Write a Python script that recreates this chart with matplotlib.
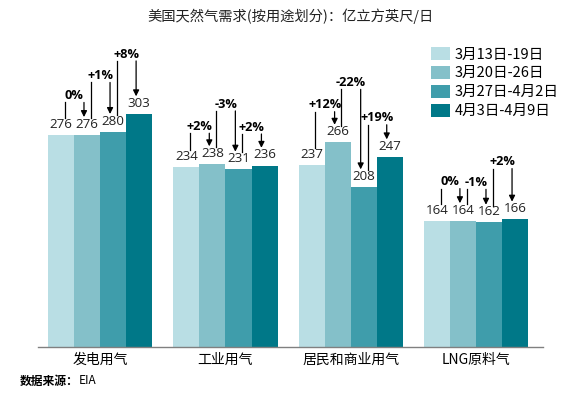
import matplotlib
matplotlib.use("Agg")
import numpy as np
import matplotlib.pyplot as plt

plt.rcParams["font.family"] = ["Noto Sans CJK SC", "DejaVu Sans"]

categories = ["发电用气", "工业用气", "居民和商业用气", "LNG原料气"]
weeks = ["3月13日-19日", "3月20日-26日", "3月27日-4月2日", "4月3日-4月9日"]
# one row per category, one column per week
values = [
    [276, 276, 280, 303],
    [234, 238, 231, 236],
    [237, 266, 208, 247],
    [164, 164, 162, 166],
]
changes = [
    ["0%", "+1%", "+8%"],
    ["+2%", "-3%", "+2%"],
    ["+12%", "-22%", "+19%"],
    ["0%", "-1%", "+2%"],
]
title = "美国天然气需求(按用途划分)：亿立方英尺/日"
source = "数据来源："
source_name = "EIA"

# layout
colors = ["#b9dee4", "#84c0c9", "#3f9dab", "#007888"]
bar_w = 0.208
# top of each change bracket (data units), per category and pair
bracket_top = [
    [318, 344, 372],
    [278, 307, 277],
    [306, 335, 289],
    [206, 205, 232],
]

fig = plt.figure(figsize=(5.8, 3.96), dpi=100)
ax = fig.add_axes([0.0655, 0.1237, 0.8707, 0.7768])

x = np.arange(len(categories))
vals = np.array(values)
for i, wk in enumerate(weeks):
    xs = x + (i - 1.5) * bar_w
    bars = ax.bar(xs, vals[:, i], width=bar_w, color=colors[i], label=wk,
                  linewidth=0)
    ax.bar_label(bars, labels=[str(v) for v in vals[:, i]], padding=3,
                 fontsize=9.6, color="#222222", family="Open Sans")

for g in range(len(categories)):
    for p in range(3):
        x_left = g + (p - 1.5) * bar_w + 0.03
        x_right = g + (p - 0.5) * bar_w - 0.025
        top = bracket_top[g][p]
        ax.plot([x_left, x_left], [values[g][p] + 22, top],
                color="black", lw=0.9)
        ax.annotate("", xy=(x_right, values[g][p + 1] + 23),
                    xytext=(x_right, top),
                    arrowprops=dict(arrowstyle="-|>", color="black", lw=0.9,
                                    mutation_scale=9, shrinkA=0, shrinkB=0))
        ax.text((x_left + x_right) / 2, top + 9, changes[g][p],
                ha="center", va="center", fontsize=9.2, fontweight="bold",
                family="Open Sans")

ax.set_xlim(-0.496, 3.534)
ax.set_ylim(0, 400)
ax.set_xticks(x)
ax.set_xticklabels(categories, fontsize=10)
ax.tick_params(axis="x", length=0, pad=4)
ax.set_yticks([])
for s in ["top", "right", "left"]:
    ax.spines[s].set_visible(False)
ax.spines["bottom"].set_color("#808080")
ax.spines["bottom"].set_linewidth(1.0)

fig.legend(loc="upper left", bbox_to_anchor=(431 / 580, 1 - 47 / 396),
           frameon=False, fontsize=10.5, handlelength=1.3, handleheight=1.0,
           labelspacing=0.3, handletextpad=0.3, borderpad=0, borderaxespad=0)

fig.text(0.5, 1 - 16 / 396, title, ha="center", va="center", fontsize=10.3,
         color="#222222")
t = fig.text(20 / 580, 1 - 381 / 396, source, ha="left", va="center",
             fontsize=8.5, fontweight="bold")
fig.canvas.draw()
bb = t.get_window_extent()
fig.text(bb.x1 / fig.bbox.width, 1 - 381 / 396, source_name, ha="left",
         va="center", fontsize=8.5)

fig.savefig("out.png", dpi=100)
